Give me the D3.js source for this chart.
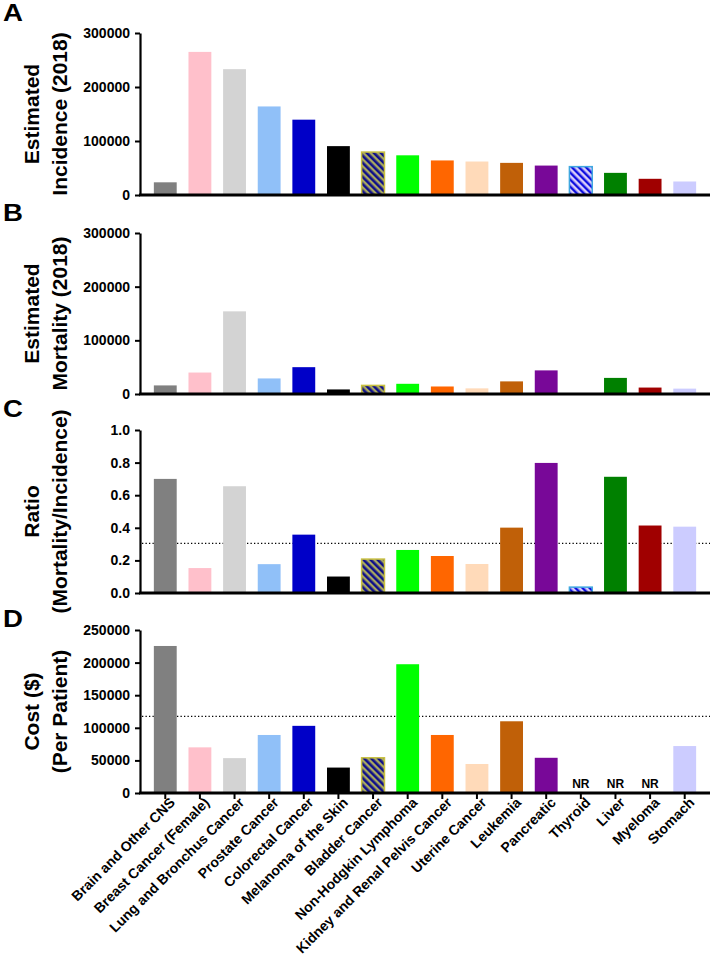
<!DOCTYPE html>
<html><head><meta charset="utf-8">
<script src="https://cdn.jsdelivr.net/npm/d3@7"></script>
<style>
html,body{margin:0;padding:0;background:#fff;}
svg{display:block;font-family:"Liberation Sans",Arial,Helvetica,sans-serif;font-weight:bold;}
</style></head>
<body>
<svg id="chart" width="715" height="956"></svg>
<script>
const categories = ["Brain and Other CNS","Breast Cancer (Female)","Lung and Bronchus Cancer","Prostate Cancer","Colorectal Cancer","Melanoma of the Skin","Bladder Cancer","Non-Hodgkin Lymphoma","Kidney and Renal Pelvis Cancer","Uterine Cancer","Leukemia","Pancreatic","Thyroid","Liver","Myeloma","Stomach"];
const incidence = [23500, 265000, 233000, 164000, 139500, 90500, 79500, 73500, 64000, 62000, 59500, 54500, 52500, 41000, 30000, 25000];
const mortality = [16000, 40000, 154000, 29000, 50000, 8500, 16000, 19000, 14000, 10500, 23500, 44000, 1000, 30000, 12000, 10000];
const ratio = [0.70, 0.153, 0.655, 0.177, 0.358, 0.101, 0.208, 0.264, 0.227, 0.178, 0.401, 0.798, 0.036, 0.713, 0.414, 0.407];
const cost = [225500, 70000, 53500, 89000, 103000, 39000, 54000, 197500, 89000, 44500, 110000, 54000, null, null, null, 72000];
const ratioRef = 0.305;
const costRef = 117500;
const fills = ["#808080","#FFC0CB","#D3D3D3","#90C0F8","#0000C8","#000000","url(#patBladder)","#00FF00","#FF6600","#FFDAB9","#C06008","#780898","url(#patThyroid)","#008000","#A00000","#CCCCFF"];
const strokes = [null,null,null,null,null,null,"#C8C040",null,null,null,null,null,"#40A8E0",null,null,null];
const panelLetters = ["A","B","C","D"];
const titles = [["Estimated","Incidence (2018)"],["Estimated","Mortality (2018)"],["Ratio","(Mortality/Incidence)"],["Cost ($)","(Per Patient)"]];
const yTicksA = [0,100000,200000,300000];
const yTicksC = [0,0.2,0.4,0.6,0.8,1.0];
const yTicksD = [0,50000,100000,150000,200000,250000];

const svg = d3.select("#chart");
const defs = svg.append("defs");
function stripes(id, bg, fg, period, fgw){
  const p = defs.append("pattern").attr("id",id).attr("patternUnits","userSpaceOnUse")
    .attr("width",period).attr("height",period).attr("patternTransform","rotate(-45)");
  p.append("rect").attr("width",period).attr("height",period).attr("fill",bg);
  p.append("rect").attr("width",fgw).attr("height",period).attr("fill",fg);
}
stripes("patBladder","#A8A860","#10108A",5,2.6);
stripes("patThyroid","#D8CCF8","#1010E0",5,2.4);

const x = d3.scaleBand().domain(categories).range([140,710]).paddingInner(0.34).paddingOuter(0.4);

const panels = [
  {data: incidence, domain:[0,300000], range:[195,33], ticks:yTicksA, fmt:d3.format("d"), letterY:21},
  {data: mortality, domain:[0,300000], range:[394,233], ticks:yTicksA, fmt:d3.format("d"), letterY:221},
  {data: ratio, domain:[0,1], range:[593,430], ticks:yTicksC, fmt:d3.format(".1f"), letterY:417, ref:ratioRef},
  {data: cost, domain:[0,250000], range:[793,630], ticks:yTicksD, fmt:d3.format("d"), letterY:627, ref:costRef}
];

panels.forEach((p,pi)=>{
  const y = d3.scaleLinear().domain(p.domain).range(p.range);
  const g = svg.append("g");
  if(p.ref!==undefined){
    g.append("line").attr("x1",142).attr("x2",710).attr("y1",y(p.ref)).attr("y2",y(p.ref))
      .attr("stroke","#000").attr("stroke-width",1.3).attr("stroke-dasharray","1.3,2.2");
  }
  g.selectAll("rect.bar").data(p.data.map((v,i)=>({v,i}))).enter()
    .filter(d=>d.v!==null)
    .append("rect").attr("class","bar")
    .attr("x",d=>x(categories[d.i]))
    .attr("width",x.bandwidth())
    .attr("y",d=>y(d.v))
    .attr("height",d=>y(0)-y(d.v))
    .attr("fill",d=>fills[d.i])
    .attr("stroke",d=>(strokes[d.i] && (y(0)-y(d.v))>3) ? strokes[d.i] : "none")
    .attr("stroke-width",1.5);
  p.data.forEach((v,i)=>{
    if(v===null){
      g.append("text").attr("x",x(categories[i])+x.bandwidth()/2).attr("y",y(0)-5)
        .attr("text-anchor","middle").attr("font-size",12).text("NR");
    }
  });
  const ya = g.append("g").attr("transform","translate(140,0)")
    .call(d3.axisLeft(y).tickValues(p.ticks).tickFormat(p.fmt).tickSize(5).tickSizeOuter(0).tickPadding(5));
  ya.select(".domain").attr("stroke-width",2.2);
  ya.selectAll(".tick line").attr("stroke-width",2);
  ya.selectAll(".tick text").attr("font-size",14).attr("font-family","inherit").attr("font-weight","bold").attr("fill","#000");
  const xa = g.append("g").attr("transform",`translate(0,${y(0)})`)
    .call(d3.axisBottom(x).tickSize(pi===3?6:0).tickSizeOuter(0).tickFormat(pi===3?(d=>d):(()=>"")));
  xa.select(".domain").attr("stroke-width",2.8).attr("d","M139,0H710");
  xa.selectAll(".tick line").attr("stroke-width",2);
  if(pi===3){
    xa.selectAll(".tick text").attr("font-size",14).attr("font-family","inherit").attr("font-weight","bold")
      .attr("fill","#000").attr("text-anchor","end")
      .attr("transform","translate(7,7) rotate(-45)").attr("x",0).attr("y",0).attr("dy","0.35em");
  }
  svg.append("text").attr("transform",`translate(3,${p.letterY}) scale(1.2,1)`).attr("font-size",23).text(panelLetters[pi]);
  const cy = (p.range[0]+p.range[1])/2;
  const t = svg.append("text").attr("transform",`translate(0,${cy}) rotate(-90)`).attr("text-anchor","middle").attr("font-size",21);
  t.append("tspan").attr("x",0).attr("y",39).text(titles[pi][0]);
  t.append("tspan").attr("x",0).attr("y",67).text(titles[pi][1]);
});
</script>
</body></html>
